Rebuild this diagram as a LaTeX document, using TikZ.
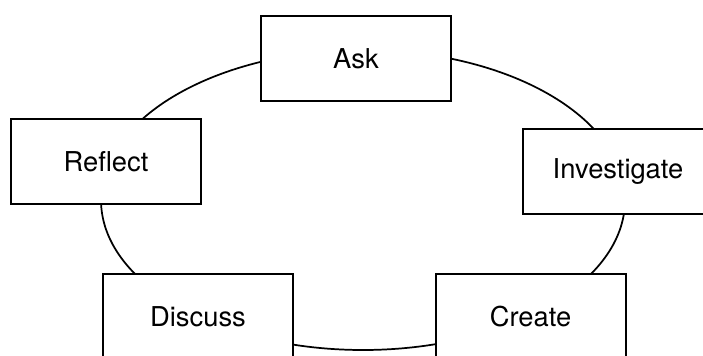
\documentclass[tikz,border=0pt]{standalone}
\usepackage{fontspec}
\setmainfont{TeX Gyre Heros}
\usepackage{tikz}

\begin{document}
\begin{tikzpicture}[x=0.75pt,y=0.75pt,yscale=-1,xscale=1,
    stage/.style={draw, fill=white, line width=1.5pt, minimum width=142.5pt, minimum height=63.75pt, inner sep=0.75pt, font=\fontsize{20.5}{24}\selectfont}]
        \clip (0,0) rectangle (703,356);
        % cycle behind the boxes
        \coordinate (centre) at (363,200);
        \draw [line width=1.3pt] (centre) ellipse [x radius=196.5pt, y radius=112.5pt];
        
        \node [stage] (ask) at (356,58.5) {Ask};
        \node [stage] (investigate) at (618,171.5) {Investigate};
        \node [stage] (create) at (530.5,316.5) {Create};
        \node [stage] (discuss) at (198,316.5) {Discuss};
        \node [stage] (reflect) at (106,161.5) {Reflect};
    
    \end{tikzpicture}
\end{document}
